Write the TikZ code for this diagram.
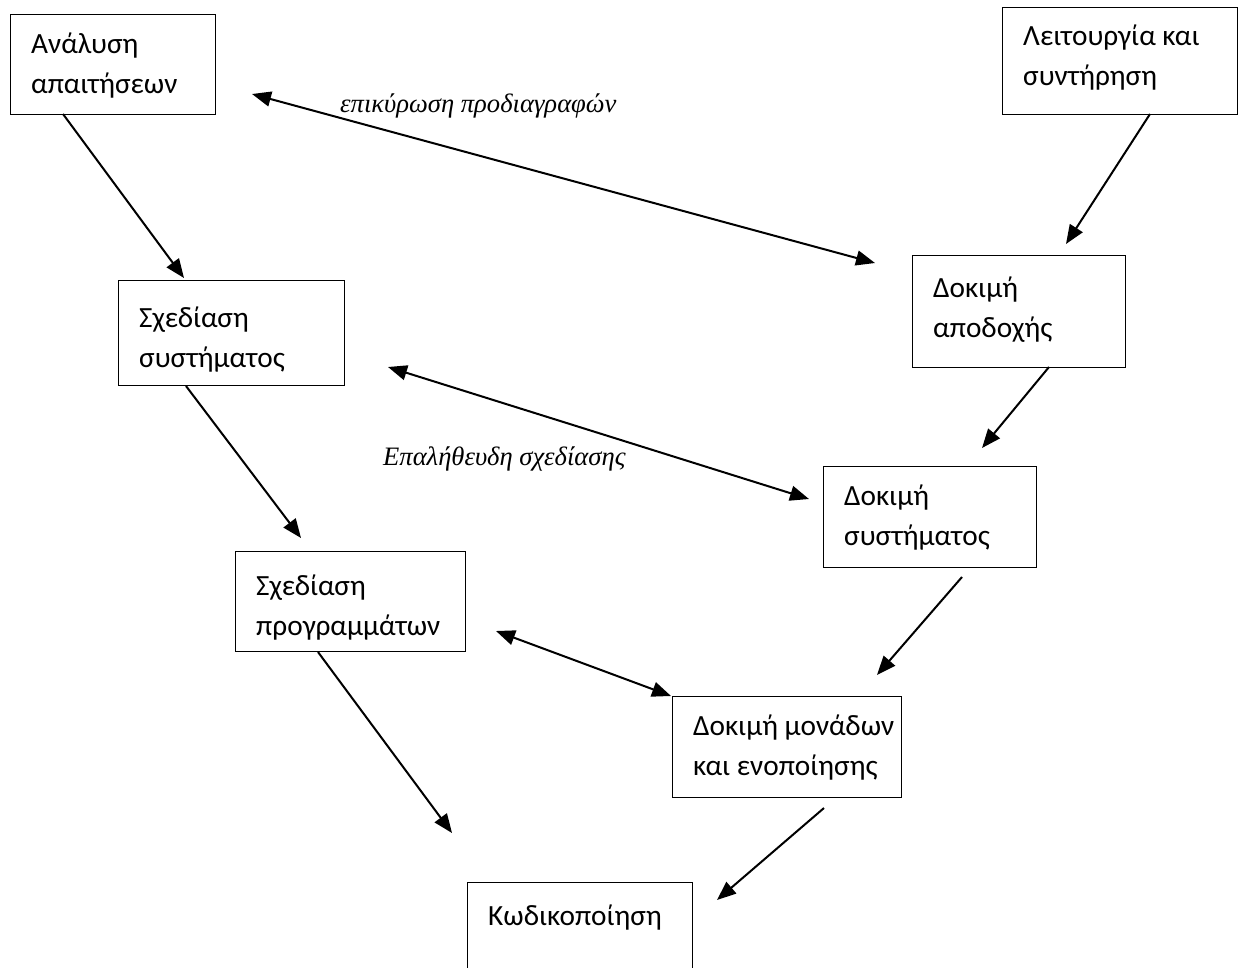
\documentclass[tikz,border=0pt]{standalone}
\usepackage{fontspec}
\setmainfont{Carlito}
\newfontfamily\notefont{Liberation Serif}
\usetikzlibrary{arrows.meta}

\begin{document}
\begin{tikzpicture}[x=1pt,y=-1pt,
  box/.style={draw, line width=1.4pt, inner sep=0pt, anchor=north west},
  boxtext/.style={anchor=base west, inner sep=0pt, font=\fontsize{29.3}{40}\selectfont},
  flow/.style={line width=2pt, -{Triangle[length=19pt,width=15pt]}},
  link/.style={line width=2pt, {Triangle[length=19pt,width=15pt]}-{Triangle[length=19pt,width=15pt]}},
  note/.style={anchor=base west, inner sep=0pt, font=\notefont\itshape\fontsize{26.6}{30}\selectfont}]

% page
\fill[white] (0,0) rectangle (1239,967);
\useasboundingbox (0,0) rectangle (1239,967);

% left branch of the V
\node[box, minimum width=205pt, minimum height=100pt] (req)  at (10,14)  {};
\node[box, minimum width=226pt, minimum height=105pt] (sysd) at (118,280) {};
\node[box, minimum width=230pt, minimum height=100pt] (prog) at (235,551) {};
% bottom of the V (runs off the page)
\node[box, minimum width=225pt, minimum height=120pt] (code) at (467,882) {};
% right branch of the V
\node[box, minimum width=235pt, minimum height=107pt] (ops)  at (1002,7)  {};
\node[box, minimum width=213pt, minimum height=112pt] (acc)  at (912,255) {};
\node[box, minimum width=213pt, minimum height=101pt] (syst) at (823,466) {};
\node[box, minimum width=229pt, minimum height=101pt] (unit) at (672,696) {};

% box texts
\node[boxtext] (reqT)  at (31,53)   {\parbox[t]{180pt}{Ανάλυση\\απαιτήσεων}};
\node[boxtext] (sysdT) at (139,327) {\parbox[t]{200pt}{Σχεδίαση\\συστήματος}};
\node[boxtext] (progT) at (256,595) {\parbox[t]{210pt}{Σχεδίαση\\προγραμμάτων}};
\node[boxtext] (codeT) at (488,925) {Κωδικοποίηση};
\node[boxtext] (opsT)  at (1023,45) {\parbox[t]{210pt}{Λειτουργία και\\συντήρηση}};
\node[boxtext] (accT)  at (933,297) {\parbox[t]{190pt}{Δοκιμή\\αποδοχής}};
\node[boxtext] (systT) at (844,505) {\parbox[t]{190pt}{Δοκιμή\\συστήματος}};
\node[boxtext] (unitT) at (693,735) {\parbox[t]{210pt}{Δοκιμή μονάδων\\και ενοποίησης}};

% connector end points
\coordinate (a1s) at (63,114);   \coordinate (a1e) at (184,278);
\coordinate (a2s) at (1150,114); \coordinate (a2e) at (1066,244);
\coordinate (a3s) at (252,94);   \coordinate (a3e) at (875,263);
\coordinate (a4s) at (1049,367); \coordinate (a4e) at (982,448);
\coordinate (a5s) at (186,386);  \coordinate (a5e) at (301,538);
\coordinate (a6s) at (388,367);  \coordinate (a6e) at (809,499);
\coordinate (a7s) at (962,577);  \coordinate (a7e) at (877,675);
\coordinate (a8s) at (318,652);  \coordinate (a8e) at (452,833);
\coordinate (a9s) at (496,631);  \coordinate (a9e) at (671,696);
\coordinate (a10s) at (824,808); \coordinate (a10e) at (717,900);

% downward flow on the left
\draw[flow] (a1s) -- (a1e);
\draw[flow] (a5s) -- (a5e);
\draw[flow] (a8s) -- (a8e);
% downward flow on the right
\draw[flow] (a2s) -- (a2e);
\draw[flow] (a4s) -- (a4e);
\draw[flow] (a7s) -- (a7e);
\draw[flow] (a10s) -- (a10e);
% cross links between the branches
\draw[link] (a3s) -- (a3e);
\draw[link] (a6s) -- (a6e);
\draw[link] (a9s) -- (a9e);

% link labels
\node[note] (valid) at (340,112) {επικύρωση προδιαγραφών};
\node[note] (verif) at (383,465) {Επαλήθευδη σχεδίασης};
\end{tikzpicture}
\end{document}
